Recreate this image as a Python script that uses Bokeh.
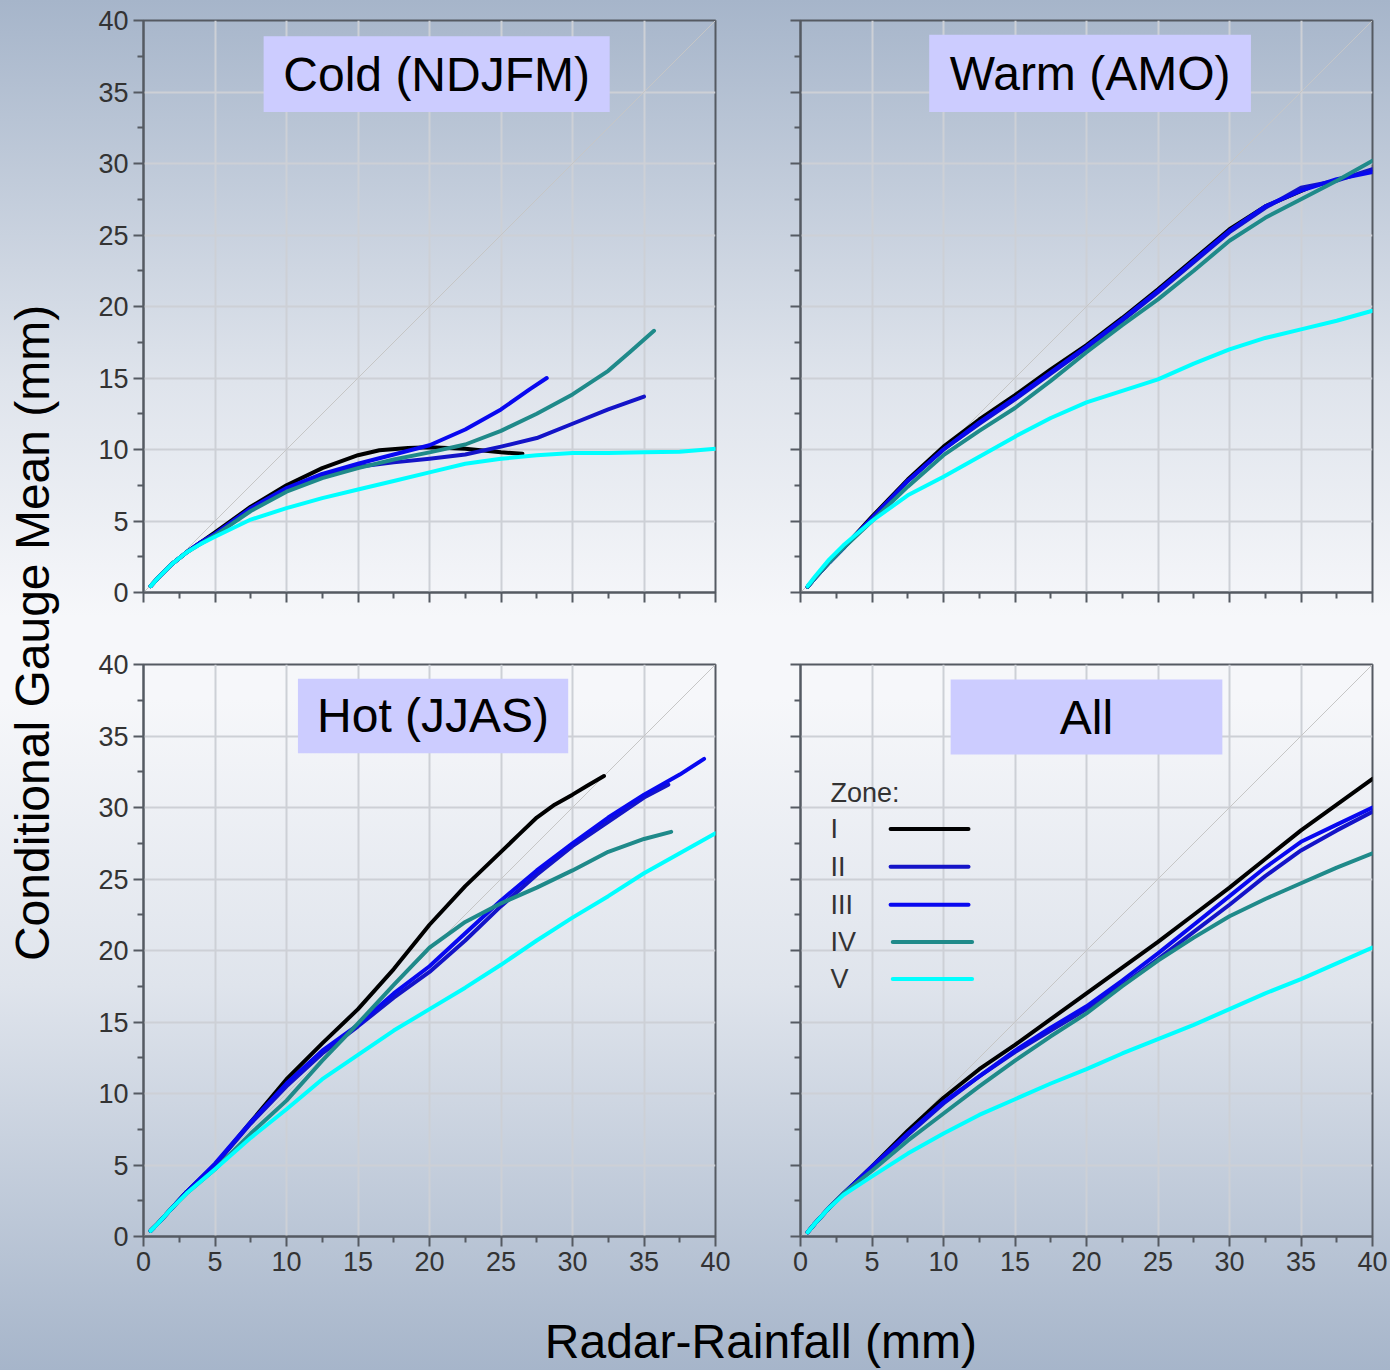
import math
from bokeh.plotting import figure
from bokeh.layouts import row, column
from bokeh.models import (Range1d, FixedTicker, BoxAnnotation, Label, Slope,
                          CustomLabelingPolicy)
from bokeh.embed import file_html
from bokeh.resources import INLINE

# ---------------- data ----------------
zones = ["I", "II", "III", "IV", "V"]
zone_colors = ["#000000", "#1414c8", "#0808f0", "#1f8a8a", "#00ffff"]

# Cold (NDJFM)
cold_I_x = [0.5, 1, 2, 3, 4, 5, 7.5, 10, 12.5, 15, 16.5, 18.5, 20, 22.5, 25, 26.5]
cold_I_y = [0.45, 1.0, 2.0, 2.8, 3.5, 4.2, 6.0, 7.5, 8.7, 9.6, 9.95, 10.1, 10.15, 10.05, 9.8, 9.7]
cold_II_x = [0.5, 1, 2, 3, 4, 5, 7.5, 10, 12.5, 15, 17.5, 20, 22.5, 25, 27.5, 30, 32.5, 35]
cold_II_y = [0.45, 1.0, 2.0, 2.8, 3.5, 4.1, 5.8, 7.2, 8.2, 8.8, 9.1, 9.35, 9.65, 10.2, 10.8, 11.8, 12.8, 13.7]
cold_III_x = [0.5, 1, 2, 3, 4, 5, 7.5, 10, 12.5, 15, 17.5, 20, 22.5, 25, 27, 28.2]
cold_III_y = [0.45, 1.0, 2.0, 2.8, 3.5, 4.1, 5.9, 7.3, 8.3, 9.0, 9.65, 10.3, 11.4, 12.8, 14.2, 15.0]
cold_IV_x = [0.5, 1, 2, 3, 4, 5, 7.5, 10, 12.5, 15, 17.5, 20, 22.5, 25, 27.5, 30, 32.5, 34, 35.7]
cold_IV_y = [0.45, 1.0, 2.0, 2.8, 3.4, 4.0, 5.7, 7.05, 8.0, 8.7, 9.3, 9.8, 10.35, 11.3, 12.5, 13.85, 15.5, 16.8, 18.3]
cold_V_x = [0.5, 1, 2, 3, 4, 5, 7.5, 10, 12.5, 15, 17.5, 20, 22.5, 25, 27.5, 30, 32.5, 35, 37.5, 40]
cold_V_y = [0.45, 1.0, 2.0, 2.8, 3.4, 3.9, 5.1, 5.9, 6.6, 7.2, 7.8, 8.4, 9.0, 9.35, 9.6, 9.75, 9.75, 9.8, 9.85, 10.05]

# Warm (AMO)
warm_I_x = [0.5, 1, 2, 3, 5, 7.5, 10, 12.5, 15, 17.5, 20, 22.5, 25, 27.5, 30, 32.5, 35.5]
warm_I_y = [0.4, 1.0, 2.1, 3.1, 5.3, 7.9, 10.2, 12.1, 13.8, 15.6, 17.3, 19.2, 21.2, 23.3, 25.4, 27.0, 28.3]
warm_II_x = [0.5, 1, 2, 3, 5, 7.5, 10, 12.5, 15, 17.5, 20, 22.5, 25, 27.5, 30, 32.5, 35, 37.5, 40]
warm_II_y = [0.4, 1.0, 2.1, 3.1, 5.2, 7.8, 10.0, 11.8, 13.5, 15.3, 17.1, 19.0, 21.0, 23.1, 25.2, 26.9, 28.3, 28.8, 29.6]
warm_III_x = [0.5, 1, 2, 3, 5, 7.5, 10, 12.5, 15, 17.5, 20, 22.5, 25, 27.5, 30, 32.5, 35, 37.5, 40]
warm_III_y = [0.4, 1.0, 2.1, 3.1, 5.2, 7.8, 10.0, 11.9, 13.6, 15.4, 17.2, 19.1, 21.1, 23.2, 25.3, 27.0, 28.1, 28.9, 29.4]
warm_IV_x = [0.5, 1, 2, 3, 5, 7.5, 10, 12.5, 15, 17.5, 20, 22.5, 25, 27.5, 30, 32.5, 35, 37.5, 40]
warm_IV_y = [0.4, 1.0, 2.1, 3.1, 5.0, 7.4, 9.6, 11.3, 12.9, 14.8, 16.8, 18.7, 20.5, 22.5, 24.6, 26.2, 27.5, 28.8, 30.2]
warm_V_x = [0.5, 1, 2, 3, 5, 7.5, 10, 12.5, 15, 17.5, 20, 22.5, 25, 27.5, 30, 32.5, 35, 37.5, 40]
warm_V_y = [0.45, 1.1, 2.3, 3.3, 5.0, 6.8, 8.1, 9.5, 10.9, 12.2, 13.3, 14.1, 14.9, 16.0, 17.0, 17.8, 18.4, 19.0, 19.7]

# Hot (JJAS)
hot_I_x = [0.5, 1, 2, 3, 5, 7.5, 10, 12.5, 15, 17.5, 20, 22.5, 25, 26.25, 27.5, 28.75, 30, 31, 32.2]
hot_I_y = [0.4, 0.9, 2.0, 3.1, 5.0, 8.0, 11.0, 13.5, 15.9, 18.7, 21.8, 24.5, 26.9, 28.1, 29.3, 30.2, 30.9, 31.5, 32.2]
hot_II_x = [0.5, 1, 2, 3, 5, 7.5, 10, 12.5, 15, 17.5, 20, 22.5, 25, 27.5, 30, 32.5, 35, 36.7]
hot_II_y = [0.4, 0.9, 2.0, 3.1, 5.0, 7.9, 10.5, 12.8, 14.7, 16.7, 18.5, 20.7, 23.1, 25.3, 27.3, 29.0, 30.7, 31.6]
hot_III_x = [0.5, 1, 2, 3, 5, 7.5, 10, 12.5, 15, 17.5, 20, 22.5, 25, 27.5, 30, 32.5, 35, 37.5, 39.2]
hot_III_y = [0.4, 0.9, 2.0, 3.1, 5.1, 8.0, 10.7, 13.0, 14.8, 17.0, 18.9, 21.2, 23.5, 25.6, 27.5, 29.3, 30.9, 32.3, 33.4]
hot_IV_x = [0.5, 1, 2, 3, 5, 7.5, 10, 12.5, 15, 17.5, 20, 22.5, 25, 27.5, 30, 32.5, 35, 36.9]
hot_IV_y = [0.4, 0.9, 2.0, 3.0, 4.7, 7.2, 9.5, 12.3, 14.9, 17.6, 20.2, 22.0, 23.3, 24.4, 25.6, 26.9, 27.8, 28.3]
hot_V_x = [0.5, 1, 2, 3, 5, 7.5, 10, 12.5, 15, 17.5, 20, 22.5, 25, 27.5, 30, 32.5, 35, 37.5, 40]
hot_V_y = [0.4, 0.9, 2.0, 3.0, 4.7, 6.9, 8.9, 11.0, 12.7, 14.4, 15.9, 17.4, 19.0, 20.7, 22.3, 23.8, 25.4, 26.8, 28.2]

# All
all_I_x = [0.5, 1, 2, 3, 5, 7.5, 10, 12.5, 15, 17.5, 20, 22.5, 25, 27.5, 30, 32.5, 35, 37.5, 40]
all_I_y = [0.3, 0.9, 2.0, 3.0, 4.9, 7.4, 9.7, 11.7, 13.4, 15.2, 17.0, 18.8, 20.6, 22.5, 24.4, 26.4, 28.4, 30.2, 32.0]
all_II_x = [0.5, 1, 2, 3, 5, 7.5, 10, 12.5, 15, 17.5, 20, 22.5, 25, 27.5, 30, 32.5, 35, 37.5, 40]
all_II_y = [0.3, 0.9, 2.0, 3.0, 4.8, 7.1, 9.3, 11.2, 12.9, 14.4, 15.9, 17.6, 19.4, 21.3, 23.2, 25.2, 27.0, 28.4, 29.7]
all_III_x = [0.5, 1, 2, 3, 5, 7.5, 10, 12.5, 15, 17.5, 20, 22.5, 25, 27.5, 30, 32.5, 35, 37.5, 40]
all_III_y = [0.3, 0.9, 2.0, 3.0, 4.9, 7.2, 9.4, 11.2, 13.0, 14.6, 16.1, 17.9, 19.8, 21.8, 23.8, 25.8, 27.6, 28.8, 30.0]
all_IV_x = [0.5, 1, 2, 3, 5, 7.5, 10, 12.5, 15, 17.5, 20, 22.5, 25, 27.5, 30, 32.5, 35, 37.5, 40]
all_IV_y = [0.3, 0.9, 2.0, 3.0, 4.6, 6.7, 8.6, 10.5, 12.3, 14.0, 15.6, 17.5, 19.3, 20.9, 22.4, 23.6, 24.7, 25.8, 26.8]
all_V_x = [0.5, 1, 2, 3, 5, 7.5, 10, 12.5, 15, 17.5, 20, 22.5, 25, 27.5, 30, 32.5, 35, 37.5, 40]
all_V_y = [0.3, 0.9, 2.0, 2.9, 4.2, 5.8, 7.2, 8.5, 9.6, 10.7, 11.7, 12.8, 13.8, 14.8, 15.9, 17.0, 18.0, 19.1, 20.2]

major_ticks = [0, 5, 10, 15, 20, 25, 30, 35, 40]
minor_ticks = [2.5, 7.5, 12.5, 17.5, 22.5, 27.5, 32.5, 37.5]

panel_titles = ["Cold (NDJFM)", "Warm (AMO)", "Hot (JJAS)", "All"]
y_axis_title = "Conditional Gauge Mean (mm)"
x_axis_title = "Radar-Rainfall (mm)"
legend_title = "Zone:"

# ---------------- styling ----------------
FONT = "Liberation Sans"
AXIS_COL = "#555a62"
GRID_COL = "#cdd0d6"
TICK_FONT = "27px"
BIG_FONT = "48px"
BOX_COL = "#ccccff"

no_labels = CustomLabelingPolicy(code="return new Set()")


def make_panel(title, series, box, show_x_labels, show_y_labels,
               mb_left, mb_right, mb_top, mb_bottom):
    p = figure(frame_width=572, frame_height=572,
               x_range=Range1d(0, 40), y_range=Range1d(0, 40),
               output_backend="svg", toolbar_location=None,
               min_border_left=mb_left, min_border_right=mb_right,
               min_border_top=mb_top, min_border_bottom=mb_bottom)
    p.background_fill_color = None
    p.border_fill_color = None
    p.outline_line_color = AXIS_COL
    p.outline_line_width = 2

    for ax in (p.xaxis[0], p.yaxis[0]):
        ax.ticker = FixedTicker(ticks=major_ticks, minor_ticks=minor_ticks)
        ax.axis_line_color = AXIS_COL
        ax.axis_line_width = 2
        ax.major_tick_line_color = AXIS_COL
        ax.major_tick_line_width = 2
        ax.major_tick_in = 0
        ax.major_tick_out = 10
        ax.minor_tick_line_color = AXIS_COL
        ax.minor_tick_line_width = 2
        ax.minor_tick_in = 0
        ax.minor_tick_out = 6
        ax.major_label_text_font = FONT
        ax.major_label_text_color = "#333333"
        ax.major_label_text_font_size = TICK_FONT
        ax.major_label_standoff = 5
    if not show_x_labels:
        p.xaxis.major_label_policy = no_labels
        p.xaxis.major_label_text_font_size = "1px"
        p.xaxis.major_label_standoff = 0
    if not show_y_labels:
        p.yaxis.major_label_policy = no_labels
        p.yaxis.major_label_text_font_size = "1px"
        p.yaxis.major_label_standoff = 0

    p.xgrid.ticker = FixedTicker(ticks=major_ticks)
    p.ygrid.ticker = FixedTicker(ticks=major_ticks)
    p.grid.grid_line_color = GRID_COL
    p.grid.grid_line_width = 2

    p.add_layout(Slope(gradient=1, y_intercept=0, line_color="#c6c6c6",
                       line_width=1, level="underlay"))

    for (xs, ys), col in zip(series, zone_colors):
        p.line(xs, ys, line_color=col, line_width=4,
               line_cap="round", line_join="round")

    left, right, bottom, top = box
    p.add_layout(BoxAnnotation(left=left, right=right, bottom=bottom, top=top,
                               fill_color=BOX_COL, fill_alpha=1.0,
                               line_color=None, level="overlay"))
    p.add_layout(Label(x=(left + right) / 2, y=(bottom + top) / 2, text=title,
                       text_align="center", text_baseline="middle",
                       text_font=FONT, text_font_size=BIG_FONT,
                       text_color="#000000", level="overlay"))
    return p


cold = make_panel(panel_titles[0],
                  [(cold_I_x, cold_I_y), (cold_II_x, cold_II_y), (cold_III_x, cold_III_y),
                   (cold_IV_x, cold_IV_y), (cold_V_x, cold_V_y)],
                  (8.4, 32.6, 33.6, 38.9), False, True, 75, 40, 20, 40)
warm = make_panel(panel_titles[1],
                  [(warm_I_x, warm_I_y), (warm_II_x, warm_II_y), (warm_III_x, warm_III_y),
                   (warm_IV_x, warm_IV_y), (warm_V_x, warm_V_y)],
                  (9.0, 31.5, 33.6, 39.0), False, False, 45, 18, 20, 40)
hot = make_panel(panel_titles[2],
                 [(hot_I_x, hot_I_y), (hot_II_x, hot_II_y), (hot_III_x, hot_III_y),
                  (hot_IV_x, hot_IV_y), (hot_V_x, hot_V_y)],
                 (10.8, 29.7, 33.8, 39.0), True, True, 75, 40, 32, 52)
allp = make_panel(panel_titles[3],
                  [(all_I_x, all_I_y), (all_II_x, all_II_y), (all_III_x, all_III_y),
                   (all_IV_x, all_IV_y), (all_V_x, all_V_y)],
                  (10.5, 29.5, 33.7, 38.95), True, False, 45, 18, 32, 52)

# legend (manual, label left of line as in the reference)
allp.add_layout(Label(x=2.1, y=31.0, text=legend_title, text_align="left",
                      text_baseline="middle", text_font=FONT,
                      text_font_size=TICK_FONT, text_color="#333333"))
leg_y = [28.5, 25.85, 23.2, 20.6, 18.0]
leg_x0 = [6.3, 6.3, 6.3, 6.45, 6.45]
leg_x1 = [11.75, 11.75, 11.75, 12.0, 12.0]
for z, yy in zip(zones, leg_y):
    allp.add_layout(Label(x=2.1, y=yy, text=z, text_align="left",
                          text_baseline="middle", text_font=FONT,
                          text_font_size=TICK_FONT, text_color="#333333"))
allp.segment(x0=leg_x0, y0=leg_y, x1=leg_x1, y1=leg_y,
             line_color=zone_colors, line_width=4, line_cap="round")


def blank_fig(w, h):
    f = figure(width=w, height=h, x_range=Range1d(0, 1), y_range=Range1d(0, 1),
               output_backend="svg", toolbar_location=None,
               min_border=0, min_border_left=0, min_border_right=0,
               min_border_top=0, min_border_bottom=0)
    f.axis.visible = False
    f.grid.visible = False
    f.outline_line_color = None
    f.background_fill_color = None
    f.border_fill_color = None
    return f


# top row 20+572+40 = 632 ; bottom row 32+572+52 = 656
ylab = blank_fig(68, 1288)
ylab.add_layout(Label(x=0.47, y=0.509, text=y_axis_title, angle=math.pi / 2,
                      text_align="center", text_baseline="middle",
                      text_font=FONT, text_font_size=BIG_FONT, text_color="#000000"))

xlab = blank_fig(1390, 82)
xlab.add_layout(Label(x=0.547, y=0.35, text=x_axis_title,
                      text_align="center", text_baseline="middle",
                      text_font=FONT, text_font_size=BIG_FONT, text_color="#000000"))

grid = column(row(cold, warm), row(hot, allp))
page = column(row(ylab, grid), xlab)
page.styles = {"background": "linear-gradient(to bottom, #a6b5ca 0%, #dfe4ec 28%, "
                             "#f6f7fa 45%, #f6f7fa 51%, #dfe4ec 72%, #a6b5ca 100%)"}

html = file_html(page, INLINE)
open("out.html", "w").write(html)
